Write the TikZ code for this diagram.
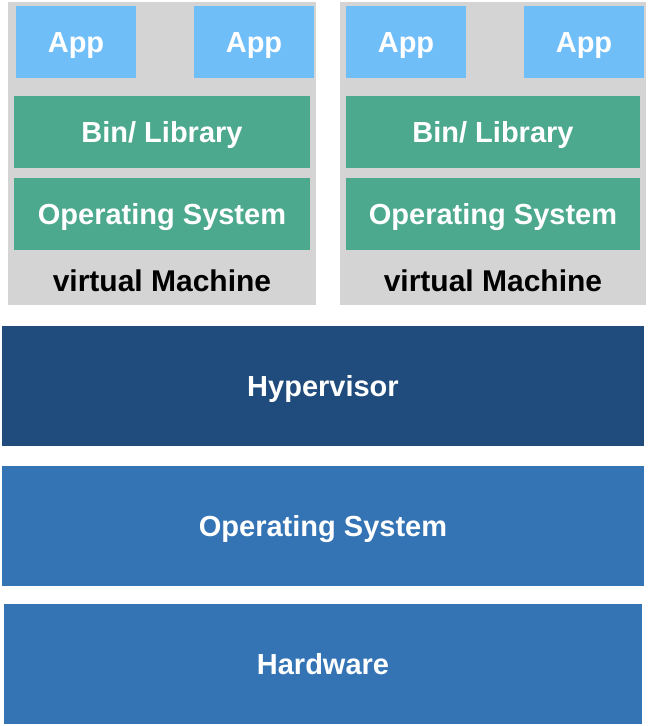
\documentclass[tikz,border=0pt]{standalone}
\usepackage{fontspec}
\setmainfont{Liberation Sans}
\definecolor{vmgrey}{HTML}{D4D4D4}
\definecolor{appblue}{HTML}{70BEF8}
\definecolor{libgreen}{HTML}{4DA98D}
\definecolor{hypblue}{HTML}{1F4C7C}
\definecolor{osblue}{HTML}{3474B5}
\tikzset{
  txt/.style={font=\bfseries\fontsize{29}{32}\selectfont, text height=20.8pt, text depth=0pt},
  blk/.style={draw=none, inner sep=0pt, outer sep=0pt, text=white, txt},
  vmbox/.style={blk, fill=vmgrey, minimum height=303pt},
  appbox/.style={blk, fill=appblue, minimum width=120pt, minimum height=72pt},
  libbox/.style={blk, fill=libgreen, minimum height=72pt},
  layer/.style={blk, minimum height=120pt},
  vmlabel/.style={text=black, inner sep=0pt, font=\bfseries\fontsize{30}{33}\selectfont, text height=21.5pt, text depth=0pt}
}
\begin{document}
\begin{tikzpicture}[x=1pt,y=-1pt]
\path[use as bounding box, fill=white] (0,0) rectangle (648,726);
% VM 1
\node[vmbox, minimum width=308pt] (vm1) at (162,153.5) {};
\node[appbox] (app11) at (76,42) {App};
\node[appbox] (app12) at (254,42) {App};
\node[libbox, minimum width=296pt] (lib1) at (162,132) {Bin/ Library};
\node[libbox, minimum width=296pt] (os1) at (162,214) {Operating System};
\node[vmlabel] (lab1) at (162,281) {virtual Machine};
% VM 2
\node[vmbox, minimum width=306pt] (vm2) at (493,153.5) {};
\node[appbox] (app21) at (406,42) {App};
\node[appbox] (app22) at (584,42) {App};
\node[libbox, minimum width=294pt] (lib2) at (493,132) {Bin/ Library};
\node[libbox, minimum width=294pt] (os2) at (493,214) {Operating System};
\node[vmlabel] (lab2) at (493,281) {virtual Machine};
% layers
\node[layer, fill=hypblue, minimum width=642pt] (hyp) at (323,386) {Hypervisor};
\node[layer, fill=osblue, minimum width=642pt] (hos) at (323,526) {Operating System};
\node[layer, fill=osblue, minimum width=638pt] (hw) at (323,664) {Hardware};
\end{tikzpicture}
\end{document}
